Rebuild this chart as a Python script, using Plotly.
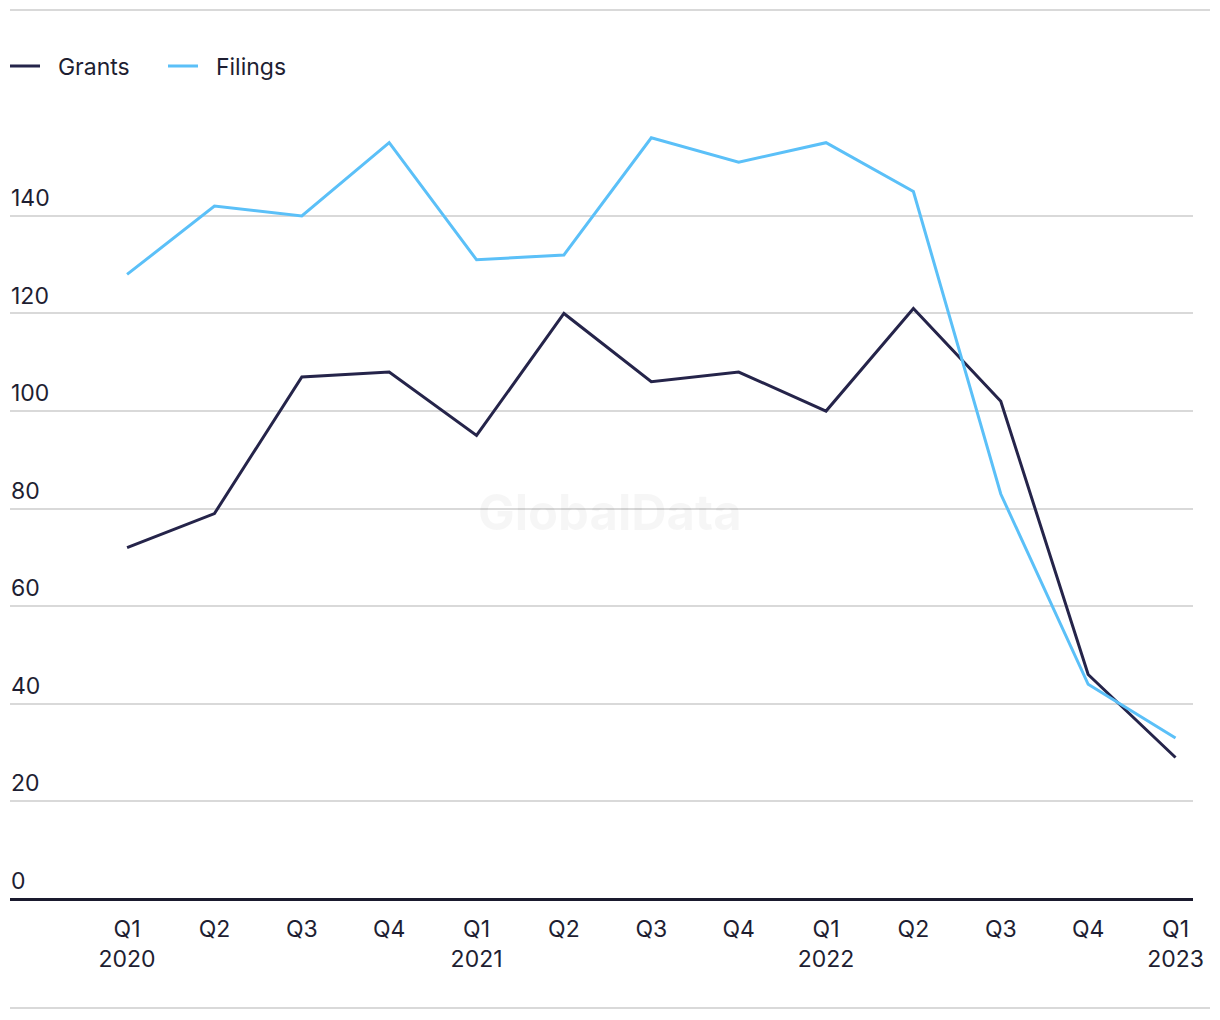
import plotly.graph_objects as go

quarters = ["Q1<br>2020", "Q2", "Q3", "Q4", "Q1<br>2021", "Q2", "Q3", "Q4",
            "Q1<br>2022", "Q2", "Q3", "Q4", "Q1<br>2023"]
grants = [72, 79, 107, 108, 95, 120, 106, 108, 100, 121, 102, 46, 29]
filings = [128, 142, 140, 155, 131, 132, 156, 151, 155, 145, 83, 44, 33]
y_ticks = [0, 20, 40, 60, 80, 100, 120, 140]

idx = list(range(len(quarters)))
FONT = "Inter"
TXT = "#1e1e32"
NB = "\u00a0\u00a0"

fig = go.Figure()
fig.add_trace(go.Scatter(x=idx, y=grants, mode="lines", name=NB + "Grants",
                         line=dict(color="#25244a", width=3)))
fig.add_trace(go.Scatter(x=idx, y=filings, mode="lines", name=NB + "Filings",
                         line=dict(color="#5bc0f8", width=3)))

W, H = 1220, 1020
L, R, T, B = 10, 27, 110, 121
pw, ph = W - L - R, H - T - B

def px_x(p):
    return (p - L) / pw

def px_y(p):
    return (H - B - p) / ph

fig.update_layout(
    width=W, height=H, autosize=False,
    margin=dict(l=L, r=R, t=T, b=B, pad=0, autoexpand=False),
    paper_bgcolor="white", plot_bgcolor="white",
    font=dict(family=FONT, size=23, color=TXT),
    showlegend=True,
    legend=dict(orientation="h", x=px_x(5), y=px_y(66), xanchor="left", yanchor="middle",
                font=dict(size=23, color=TXT), itemwidth=30, entrywidth=113,
                bgcolor="rgba(0,0,0,0)", borderwidth=0, tracegroupgap=0),
    xaxis=dict(range=[-1.34, 12.2], tickmode="array", tickvals=idx, ticktext=quarters,
               showgrid=False, zeroline=False, showline=False, ticks="",
               automargin=False, ticklabelstandoff=14,
               tickfont=dict(size=23, color=TXT), fixedrange=True),
    yaxis=dict(range=[0, 161.7], tickmode="array", tickvals=y_ticks,
               ticktext=[str(v) for v in y_ticks],
               showgrid=True, gridcolor="#d9d9d9", gridwidth=2,
               zeroline=True, zerolinecolor="#1a1a2e", zerolinewidth=3,
               showline=False, ticks="", ticklabelposition="inside",
               ticklabelshift=-18, ticklabelstandoff=-2, automargin=False,
               tickfont=dict(size=23, color=TXT), fixedrange=True),
    shapes=[
        dict(type="line", xref="paper", yref="paper", x0=0, x1=px_x(1210),
             y0=px_y(10), y1=px_y(10), line=dict(color="#d9d9d9", width=2)),
        dict(type="line", xref="paper", yref="paper", x0=0, x1=px_x(1210),
             y0=px_y(1008), y1=px_y(1008), line=dict(color="#d9d9d9", width=2)),
    ],
    annotations=[
        dict(text="<b>GlobalData</b>", xref="paper", yref="paper",
             x=px_x(610), y=px_y(512), showarrow=False,
             font=dict(family=FONT, size=49, color="rgba(0,0,0,0.035)")),
    ],
)

fig.write_html("out.html", config={"displayModeBar": False},
               post_script="document.body.style.margin='0';")
